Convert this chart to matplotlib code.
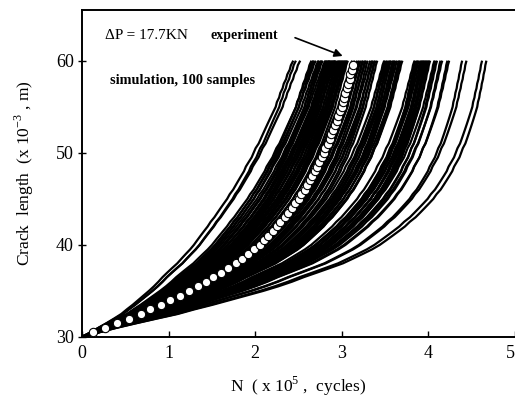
import matplotlib
matplotlib.use("Agg")
import matplotlib.pyplot as plt
import numpy as np

plt.rcParams['font.family'] = ['Liberation Serif', 'DejaVu Serif']
plt.rcParams['mathtext.fontset'] = 'custom'
plt.rcParams['mathtext.rm'] = 'Liberation Serif'

# experiment: crack length (mm) and cycles (x 1e5)
exp_a = [30.5, 31.0, 31.5, 32.0, 32.5, 33.0, 33.5, 34.0, 34.5, 35.0,
         35.5, 36.0, 36.5, 37.0, 37.5, 38.0, 38.5, 39.0, 39.5, 40.0,
         40.5, 41.0, 41.5, 42.0, 42.5, 43.0, 43.5, 44.0, 44.5, 45.0,
         45.5, 46.0, 46.5, 47.0, 47.5, 48.0, 48.5, 49.0, 49.5, 50.0,
         50.5, 51.0, 51.5, 52.0, 52.5, 53.0, 53.5, 54.0, 54.5, 55.0,
         55.5, 56.0, 56.5, 57.0, 57.5, 58.0, 58.5, 59.0, 59.5]
exp_N = [0.13, 0.26, 0.40, 0.54, 0.68, 0.79, 0.91, 1.02, 1.13, 1.24,
         1.34, 1.43, 1.51, 1.60, 1.69, 1.78, 1.85, 1.92, 1.99, 2.05,
         2.10, 2.15, 2.20, 2.25, 2.29, 2.34, 2.38, 2.42, 2.46, 2.50,
         2.53, 2.57, 2.60, 2.63, 2.66, 2.69, 2.71, 2.74, 2.77, 2.79,
         2.81, 2.84, 2.86, 2.88, 2.90, 2.92, 2.94, 2.96, 2.98, 3.00,
         3.01, 3.03, 3.04, 3.06, 3.07, 3.09, 3.10, 3.12, 3.13]
a_start, a_end, N_end = 30.0, 60.0, 3.15

# simulation, 100 samples: life at a = 60 mm and mid-life bulge of each curve
sim_life = [2.44, 2.47, 2.52,
            2.65, 2.67, 2.68, 2.70,
            2.73, 2.74, 2.76, 2.77, 2.78,
            2.81, 2.82, 2.83, 2.84, 2.85, 2.86, 2.86, 2.87, 2.88, 2.89, 2.90, 2.91, 2.92, 2.92, 2.93, 2.94,
            2.96, 2.97, 2.98, 2.99, 3.00, 3.01, 3.02, 3.03, 3.04, 3.05, 3.06, 3.07,
            3.12, 3.15, 3.18, 3.20,
            3.22, 3.24, 3.25, 3.27, 3.28, 3.30,
            3.33, 3.35, 3.36, 3.38, 3.39, 3.41,
            3.49, 3.50, 3.52, 3.53, 3.55, 3.56, 3.57, 3.59, 3.60, 3.61, 3.62,
            3.64, 3.66, 3.67, 3.68, 3.70,
            3.84, 3.85, 3.87, 3.88, 3.89,
            3.91, 3.92, 3.93, 3.94, 3.95, 3.96, 3.97, 3.98, 3.99, 4.00, 4.01, 4.02,
            4.07, 4.08, 4.10,
            4.14, 4.16,
            4.22, 4.24,
            4.39, 4.44,
            4.62, 4.67]
sim_bulge = [-2.0, -1.7, -1.9,
             -1.2, -1.6, -1.1, -1.5,
             -1.4, -0.9, -1.3, -0.8, -1.2,
             -1.3, -0.7, -1.1, -0.8, -0.6, -1.2, -1.0, -0.5, -0.9, -0.6, -1.0, -0.4, -0.8, -0.5, -0.9, -0.3,
             -0.8, -0.3, -0.7, -0.2, -0.6, -0.3, -0.7, -0.1, -0.5, -0.2, -0.5, 0.0,
             -0.3, 0.1, -0.2, 0.3,
             0.0, 0.4, 0.1, 0.5, 0.0, 0.5,
             0.1, 0.6, 0.2, 0.7, 0.3, 0.7,
             0.4, 0.9, 0.5, 1.0, 0.5, 1.1, 0.6, 1.0, 0.7, 1.2, 0.8,
             0.7, 1.2, 0.8, 1.1, 0.9,
             1.0, 1.6, 1.2, 1.5, 1.1,
             1.1, 1.7, 1.3, 1.6, 1.2, 1.8, 1.4, 1.7, 1.3, 1.9, 1.5, 1.6,
             1.5, 1.9, 1.7,
             1.9, 1.6,
             2.0, 1.8,
             2.3, 2.2,
             2.5, 2.7]

x_ticks = [0, 1, 2, 3, 4, 5]
y_ticks = [30, 40, 50, 60]

fig = plt.figure(figsize=(5.15, 4.01), dpi=100)
ax = fig.add_axes([82 / 515, 64 / 401, 433 / 515, 327 / 401])

# simulated curves share the experimental growth shape
a_grid = np.array([a_start] + exp_a + [a_end])
g = np.array([0.0] + exp_N + [N_end]) / N_end
for life, bulge in zip(sim_life, sim_bulge):
    n = life * g + bulge * g**2 * (1 - g)
    ax.plot(n, a_grid, color='black', lw=1.6, solid_capstyle='butt')

ax.plot(exp_N, exp_a, 'o', ms=6, mfc='white', mec='black', mew=0.8, zorder=5)

ax.set_xlim(0, 5)
ax.set_ylim(30, 65.5)
ax.set_xticks(x_ticks)
ax.set_xticklabels([str(t) for t in x_ticks])
ax.get_xticklabels()[-1].set_ha('right')
ax.set_yticks(y_ticks)
ax.tick_params(axis='x', direction='in', length=4, width=1.0, labelsize=13, pad=6)
ax.tick_params(axis='y', direction='inout', length=6, width=1.0, labelsize=13, pad=3)
for s in ax.spines.values():
    s.set_linewidth(1.4)
ax.spines['right'].set_visible(False)

ax.set_xlabel('N  ( x 10$^{5}$ ,  cycles)', fontsize=12.5, labelpad=9)
ax.set_ylabel('Crack  length  (x 10$^{-3}$ , m)', fontsize=12.5, labelpad=14)

ax.text(0.27, 62.7, 'ΔP = 17.7KN', fontsize=11, va='center', ha='left')
ax.text(1.48, 62.7, 'experiment', fontsize=10, fontweight='bold', va='center', ha='left')
ax.text(0.32, 57.9, 'simulation, 100 samples', fontsize=10.3, fontweight='bold', va='center', ha='left')
ax.annotate('', xy=(3.04, 60.4), xytext=(2.43, 62.6),
            arrowprops=dict(arrowstyle='-|>', color='black', lw=1.2, mutation_scale=12))

fig.savefig('out.png', dpi=100)
